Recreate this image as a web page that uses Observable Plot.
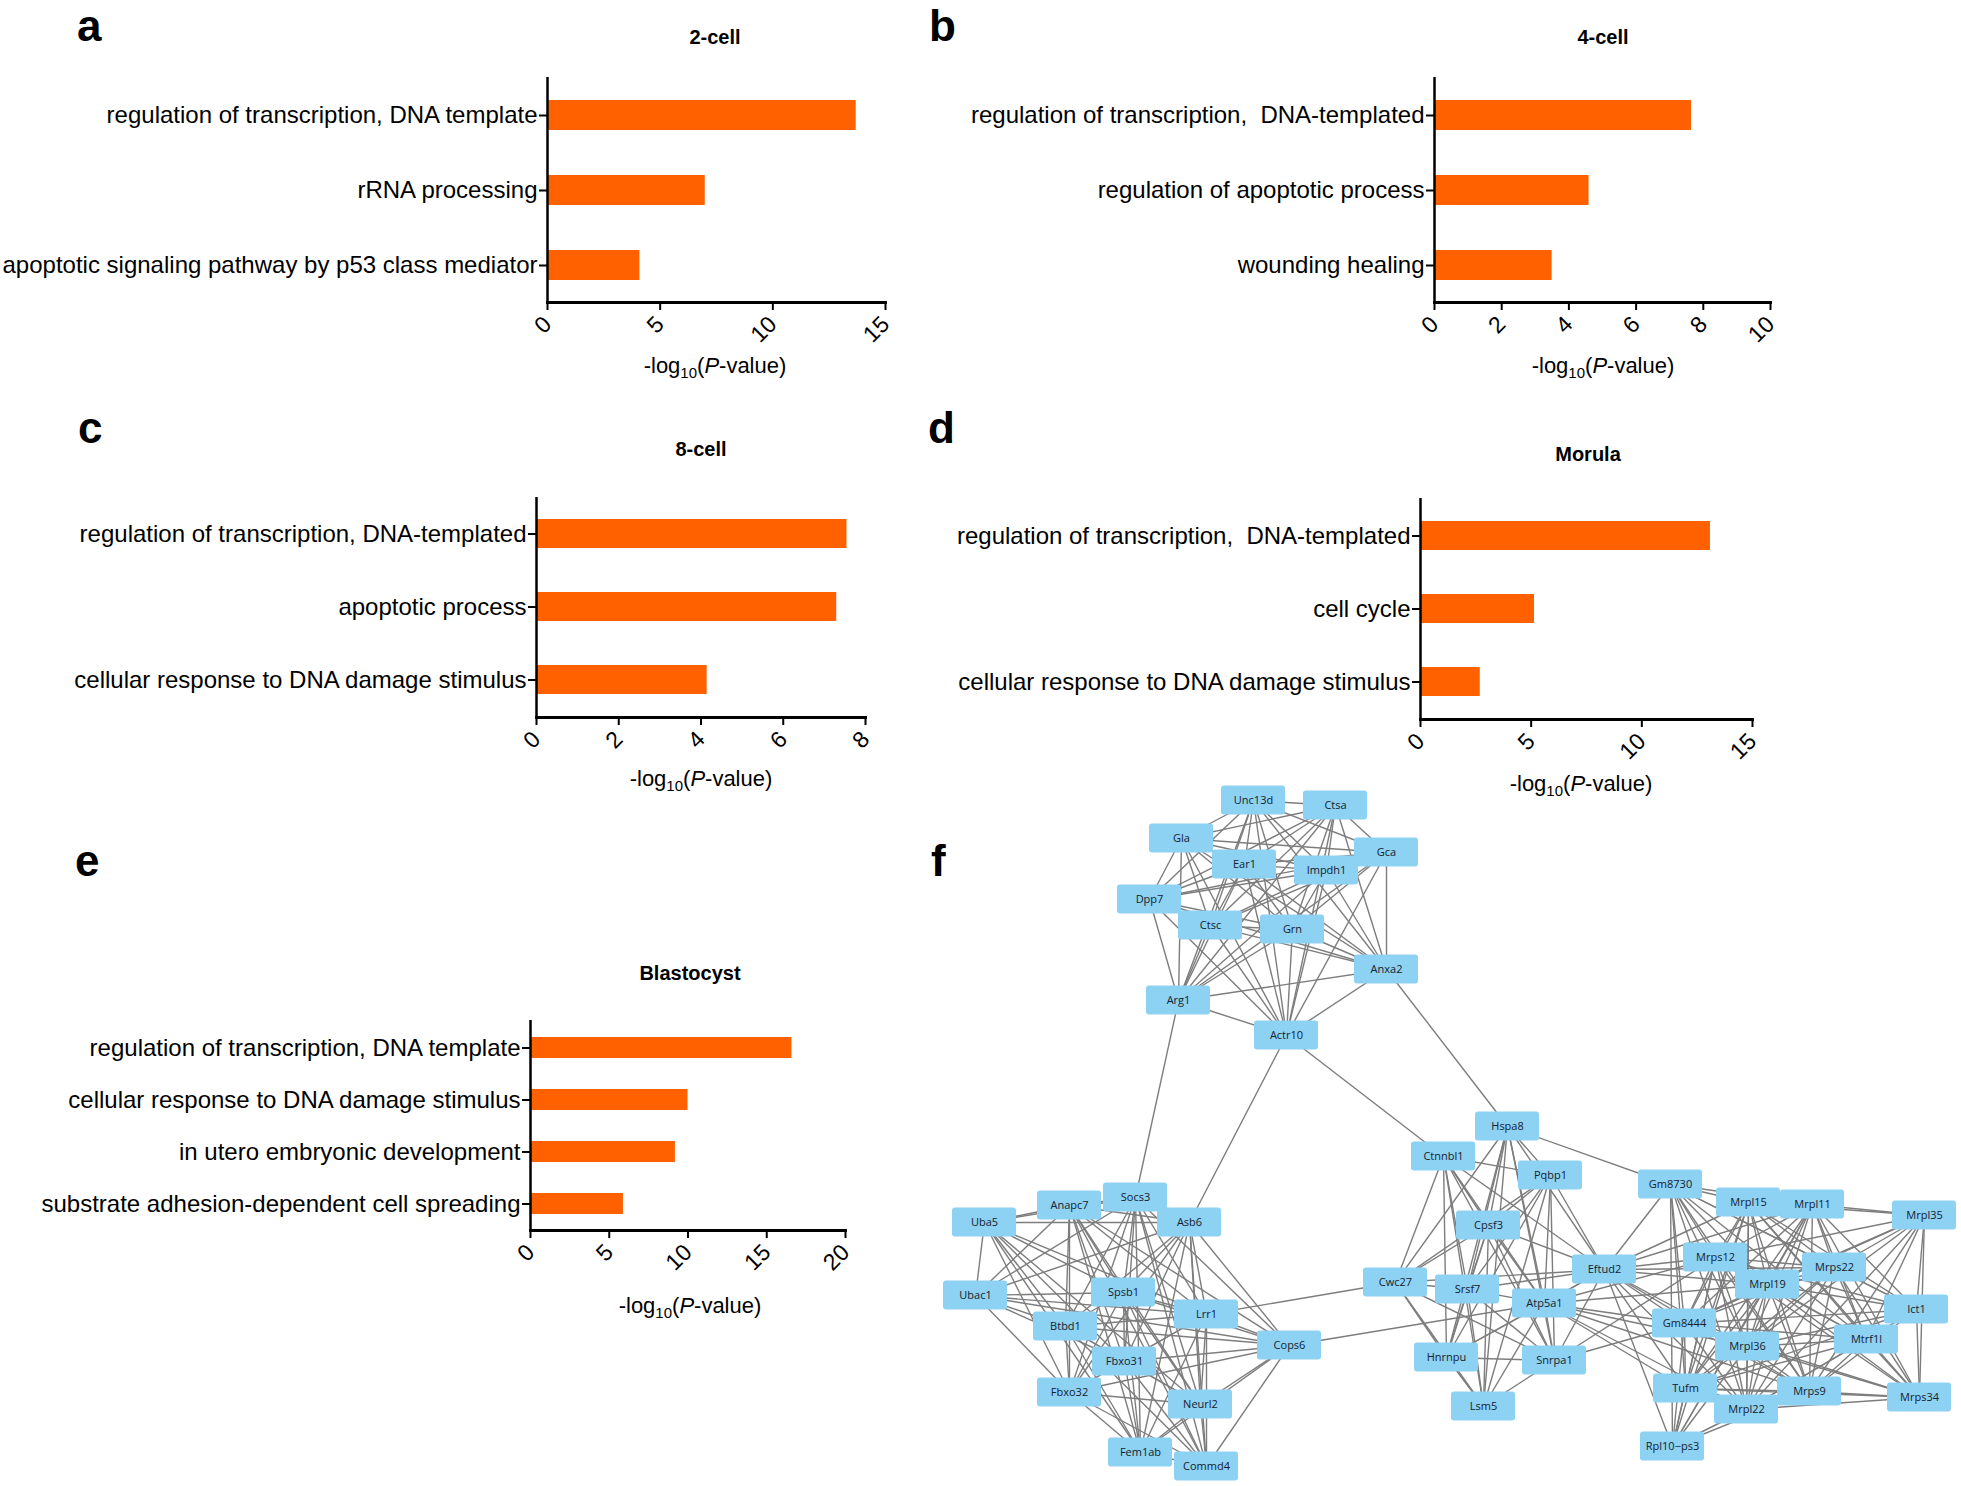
<!DOCTYPE html>
<html><head><meta charset="utf-8">
<script src="https://cdn.jsdelivr.net/npm/d3@7"></script>
<script src="https://cdn.jsdelivr.net/npm/@observablehq/plot@0.6"></script>
<style>
html,body{margin:0;padding:0;background:#fff;}
#root{position:relative;width:1961px;height:1486px;overflow:hidden;font-family:"Liberation Sans",Arial,sans-serif;color:#000;background:#fff;}
#root svg{position:absolute;}
svg text{white-space:pre;}
</style></head>
<body><div id="root"></div>
<script>
// ---------- Bar chart data ----------
const catA = ["regulation of transcription, DNA template", "rRNA processing", "apoptotic signaling pathway by p53 class mediator"];
const valA = [13.7, 7.0, 4.1];
const ticksA = [0, 5, 10, 15];

const catB = ["regulation of transcription,  DNA-templated", "regulation of apoptotic process", "wounding healing"];
const valB = [7.65, 4.6, 3.5];
const ticksB = [0, 2, 4, 6, 8, 10];

const catC = ["regulation of transcription, DNA-templated", "apoptotic process", "cellular response to DNA damage stimulus"];
const valC = [7.55, 7.3, 4.15];
const ticksC = [0, 2, 4, 6, 8];

const catD = ["regulation of transcription,  DNA-templated", "cell cycle", "cellular response to DNA damage stimulus"];
const valD = [13.1, 5.15, 2.7];
const ticksD = [0, 5, 10, 15];

const catE = ["regulation of transcription, DNA template", "cellular response to DNA damage stimulus", "in utero embryonic development", "substrate adhesion-dependent cell spreading"];
const valE = [16.6, 10.0, 9.2, 5.9];
const ticksE = [0, 5, 10, 15, 20];

const titles = ["2-cell", "4-cell", "8-cell", "Morula", "Blastocyst"];
const panelLetters = ["a", "b", "c", "d", "e", "f"];

// ---------- Network data ----------
const nodeNames = ["Unc13d","Ctsa","Gla","Gca","Ear1","Impdh1","Dpp7","Ctsc","Grn","Anxa2","Arg1","Actr10",
  "Socs3","Anapc7","Uba5","Asb6","Ubac1","Spsb1","Lrr1","Btbd1","Cops6","Fbxo31","Fbxo32","Neurl2","Fem1ab","Commd4",
  "Hspa8","Ctnnbl1","Pqbp1","Cpsf3","Cwc27","Eftud2","Srsf7","Atp5a1","Hnrnpu","Snrpa1","Lsm5",
  "Gm8730","Mrpl15","Mrpl11","Mrpl35","Mrps12","Mrps22","Mrpl19","Ict1","Gm8444","Mtrf1l","Mrpl36","Tufm","Mrps9","Mrps34","Mrpl22","Rpl10\u2212ps3"];
const nodeX = [1253,1335,1181,1386,1244,1326,1149,1210,1292,1386,1178,1286,
  1135,1069,984,1189,975,1123,1206,1065,1289,1124,1069,1200,1140,1206,
  1507,1443,1550,1488,1395,1604,1467,1544,1446,1554,1483,
  1670,1748,1812,1924,1715,1834,1767,1916,1684,1866,1747,1685,1809,1919,1746,1672];
const nodeY = [800,805,838,852,864,870,899,925,929,969,1000,1035,
  1197,1205,1222,1222,1295,1292,1314,1326,1345,1361,1392,1404,1452,1466,
  1126,1156,1175,1225,1282,1269,1289,1303,1357,1360,1406,
  1184,1202,1204,1215,1257,1267,1284,1309,1323,1339,1346,1388,1391,1397,1409,1446];

// adjacency lists: source, space-separated targets
const adjacency = [
  ["Unc13d", "Ctsa Gla Gca Ear1 Impdh1 Dpp7 Ctsc Grn Anxa2 Arg1 Actr10"],
  ["Ctsa", "Gla Gca Ear1 Impdh1 Dpp7 Ctsc Grn Anxa2 Arg1 Actr10"],
  ["Gla", "Gca Ear1 Impdh1 Dpp7 Ctsc Grn Anxa2 Arg1 Actr10"],
  ["Gca", "Ear1 Impdh1 Dpp7 Ctsc Grn Anxa2 Arg1 Actr10"],
  ["Ear1", "Impdh1 Dpp7 Ctsc Grn Anxa2 Arg1 Actr10"],
  ["Impdh1", "Dpp7 Ctsc Grn Anxa2 Arg1 Actr10"],
  ["Dpp7", "Ctsc Grn Anxa2 Arg1 Actr10"],
  ["Ctsc", "Grn Anxa2 Arg1 Actr10"],
  ["Grn", "Anxa2 Arg1 Actr10"],
  ["Anxa2", "Arg1 Actr10 Hspa8"],
  ["Arg1", "Actr10 Socs3"],
  ["Actr10", "Asb6 Ctnnbl1"],
  ["Socs3", "Anapc7 Uba5 Asb6 Ubac1 Spsb1 Lrr1 Btbd1 Cops6 Fbxo31 Fbxo32 Neurl2 Fem1ab Commd4"],
  ["Anapc7", "Uba5 Asb6 Ubac1 Spsb1 Lrr1 Btbd1 Cops6 Fbxo31 Fbxo32 Neurl2 Fem1ab Commd4"],
  ["Uba5", "Asb6 Ubac1 Spsb1 Lrr1 Btbd1 Fbxo31 Fbxo32 Neurl2 Fem1ab"],
  ["Asb6", "Ubac1 Spsb1 Lrr1 Btbd1 Cops6 Fbxo31 Fbxo32 Neurl2 Fem1ab Commd4"],
  ["Ubac1", "Spsb1 Lrr1 Btbd1 Cops6 Fbxo31 Fbxo32"],
  ["Spsb1", "Lrr1 Btbd1 Cops6 Fbxo31 Fbxo32 Neurl2 Fem1ab Commd4"],
  ["Lrr1", "Btbd1 Cops6 Fbxo31 Fbxo32 Neurl2 Fem1ab Commd4 Cwc27"],
  ["Btbd1", "Cops6 Fbxo31 Fbxo32 Neurl2 Fem1ab Commd4"],
  ["Cops6", "Fbxo31 Fbxo32 Neurl2 Fem1ab Commd4 Atp5a1"],
  ["Fbxo31", "Fbxo32 Neurl2 Fem1ab Commd4"],
  ["Fbxo32", "Neurl2 Fem1ab Commd4"],
  ["Neurl2", "Fem1ab Commd4"],
  ["Fem1ab", "Commd4"],
  ["Hspa8", "Pqbp1 Cpsf3 Cwc27 Srsf7 Atp5a1 Hnrnpu Snrpa1 Lsm5 Eftud2 Gm8730"],
  ["Ctnnbl1", "Pqbp1 Cpsf3 Cwc27 Srsf7 Atp5a1 Hnrnpu Snrpa1 Lsm5 Eftud2"],
  ["Pqbp1", "Cpsf3 Cwc27 Srsf7 Atp5a1 Hnrnpu Snrpa1 Lsm5 Eftud2"],
  ["Cpsf3", "Cwc27 Srsf7 Atp5a1 Hnrnpu Snrpa1 Lsm5 Eftud2"],
  ["Cwc27", "Srsf7 Eftud2 Hnrnpu Snrpa1 Lsm5"],
  ["Srsf7", "Eftud2 Atp5a1 Hnrnpu Snrpa1 Lsm5"],
  ["Eftud2", "Atp5a1 Snrpa1 Hnrnpu Gm8730 Mrpl15 Mrpl11 Mrps12 Mrpl19 Gm8444 Mrpl36 Tufm Mrpl22 Mrps9 Rpl10\u2212ps3 Mrps22"],
  ["Atp5a1", "Snrpa1 Lsm5 Hnrnpu Gm8444 Mrpl36 Tufm Mrpl22 Mrps9 Mrps12 Mrpl19"],
  ["Hnrnpu", "Snrpa1 Lsm5"],
  ["Snrpa1", "Lsm5 Gm8444 Mrps12"],
  ["Gm8730", "Mrpl15 Mrpl11 Mrps12 Mrpl19 Mrps22 Gm8444 Mrpl36 Tufm Mrps9 Mrpl22 Rpl10\u2212ps3 Mtrf1l Ict1"],
  ["Mrpl15", "Mrpl11 Mrpl35 Mrps12 Mrps22 Mrpl19 Ict1 Gm8444 Mtrf1l Mrpl36 Tufm Mrps9 Mrps34 Mrpl22 Rpl10\u2212ps3"],
  ["Mrpl11", "Mrpl35 Mrps12 Mrps22 Mrpl19 Ict1 Gm8444 Mtrf1l Mrpl36 Tufm Mrps9 Mrps34 Mrpl22 Rpl10\u2212ps3"],
  ["Mrpl35", "Mrps12 Mrps22 Mrpl19 Ict1 Gm8444 Mtrf1l Mrpl36 Mrps9 Mrps34 Mrpl22"],
  ["Mrps12", "Mrps22 Mrpl19 Ict1 Gm8444 Mtrf1l Mrpl36 Tufm Mrps9 Mrps34 Mrpl22 Rpl10\u2212ps3"],
  ["Mrps22", "Mrpl19 Ict1 Gm8444 Mtrf1l Mrpl36 Tufm Mrps9 Mrps34 Mrpl22"],
  ["Mrpl19", "Ict1 Gm8444 Mtrf1l Mrpl36 Tufm Mrps9 Mrps34 Mrpl22 Rpl10\u2212ps3"],
  ["Ict1", "Gm8444 Mtrf1l Mrpl36 Tufm Mrps9 Mrps34 Mrpl22"],
  ["Gm8444", "Mtrf1l Mrpl36 Tufm Mrps9 Mrps34 Mrpl22 Rpl10\u2212ps3"],
  ["Mtrf1l", "Mrpl36 Tufm Mrps9 Mrps34 Mrpl22"],
  ["Mrpl36", "Tufm Mrps9 Mrps34 Mrpl22 Rpl10\u2212ps3"],
  ["Tufm", "Mrps9 Mrps34 Mrpl22 Rpl10\u2212ps3"],
  ["Mrps9", "Mrps34 Mrpl22 Rpl10\u2212ps3"],
  ["Mrps34", "Mrpl22"],
  ["Mrpl22", "Rpl10\u2212ps3"]
];

// ---------- Build ----------
const root = document.getElementById("root");
const FONT = "'Liberation Sans', Arial, sans-serif";
const ORANGE = "#ff6000";

function barChart(cats, vals, ticks, domain, box) {
  const data = cats.map((c, i) => ({category: c, value: vals[i]}));
  const svg = Plot.plot({
    width: box.w, height: box.h,
    marginLeft: box.ml, marginTop: box.mt, marginRight: box.mr, marginBottom: box.mb,
    style: {background: "transparent", fontFamily: FONT, color: "#000", overflow: "visible"},
    x: {domain, label: null},
    y: {domain: cats, paddingInner: 0.6, paddingOuter: 0.3, label: null},
    marks: [
      Plot.barX(data, {x: "value", y: "category", fill: ORANGE}),
      Plot.ruleX([0], {stroke: "#000", strokeWidth: 2.5}),
      Plot.frame({anchor: "bottom", stroke: "#000", strokeWidth: 3}),
      Plot.axisY({tickSize: 8, tickPadding: 2, fontSize: 24, strokeWidth: 2, label: null}),
      Plot.axisX({ticks, tickSize: 8, tickPadding: 10, tickRotate: -45, fontSize: 23, strokeWidth: 2, label: null})
    ]
  });
  svg.style.left = box.x + "px";
  svg.style.top = box.y + "px";
  root.appendChild(svg);
}

barChart(catA, valA, ticksA, [0, 15], {x: 0, y: 0, w: 930, h: 400, ml: 547, mt: 77, mr: 45, mb: 98});
barChart(catB, valB, ticksB, [0, 10], {x: 930, y: 0, w: 1031, h: 400, ml: 504, mt: 77, mr: 191, mb: 98});
barChart(catC, valC, ticksC, [0, 8], {x: 0, y: 400, w: 930, h: 420, ml: 536, mt: 97, mr: 65, mb: 103});
barChart(catD, valD, ticksD, [0, 15], {x: 930, y: 400, w: 1031, h: 420, ml: 490, mt: 98, mr: 209, mb: 101});
barChart(catE, valE, ticksE, [0, 20], {x: 0, y: 830, w: 930, h: 500, ml: 530, mt: 190, mr: 85, mb: 100});

// Network
const nodes = nodeNames.map((n, i) => ({name: n, x: nodeX[i], y: nodeY[i]}));
const byName = new Map(nodes.map(d => [d.name, d]));
const edges = [];
for (const [s, ts] of adjacency) {
  for (const t of ts.split(" ")) {
    const a = byName.get(s), b = byName.get(t);
    if (a && b) edges.push({x1: a.x, y1: a.y, x2: b.x, y2: b.y});
  }
}
const net = Plot.plot({
  width: 1031, height: 716, margin: 0,
  style: {background: "transparent", overflow: "visible"},
  x: {domain: [930, 1961], range: [0, 1031], axis: null},
  y: {domain: [770, 1486], range: [0, 716], axis: null},
  marks: [
    Plot.link(edges, {x1: "x1", y1: "y1", x2: "x2", y2: "y2", stroke: "#7d7d7d", strokeWidth: 1.4}),
    Plot.rect(nodes, {x1: d => d.x - 32, x2: d => d.x + 32, y1: d => d.y - 14.5, y2: d => d.y + 14.5, fill: "#8dd1f3", rx: 3}),
    Plot.text(nodes, {x: "x", y: "y", text: "name", fontSize: 11, fill: "#14222e", fontFamily: "'Open Sans', 'Noto Sans', sans-serif"})
  ]
});
net.style.left = "930px";
net.style.top = "770px";
root.appendChild(net);

// Annotation overlay: panel letters, titles, axis labels
const ov = d3.select(root).append("svg")
  .attr("width", 1961).attr("height", 1486)
  .style("left", "0px").style("top", "0px").style("pointer-events", "none")
  .attr("font-family", FONT).attr("fill", "#000");

const letterPos = [[77, 41], [929, 41], [78, 443], [928, 443], [75, 876], [931, 876]];
panelLetters.forEach((l, i) => {
  ov.append("text").attr("x", letterPos[i][0]).attr("y", letterPos[i][1])
    .attr("font-size", 44).attr("font-weight", "bold").text(l);
});
const titlePos = [[715, 44], [1603, 44], [701, 456], [1588, 461], [690, 980]];
titles.forEach((t, i) => {
  ov.append("text").attr("x", titlePos[i][0]).attr("y", titlePos[i][1])
    .attr("font-size", 20).attr("font-weight", "bold").attr("text-anchor", "middle").text(t);
});
const axisLabelPos = [[715, 373], [1603, 373], [701, 786], [1581, 791], [690, 1313]];
axisLabelPos.forEach(([x, y]) => {
  const t = ov.append("text").attr("x", x).attr("y", y).attr("font-size", 22).attr("text-anchor", "middle");
  t.append("tspan").text("-log");
  t.append("tspan").attr("font-size", 15).attr("dy", 5).text("10");
  t.append("tspan").attr("dy", -5).text("(");
  t.append("tspan").attr("font-style", "italic").text("P");
  t.append("tspan").text("-value)");
});
</script>
</body></html>
